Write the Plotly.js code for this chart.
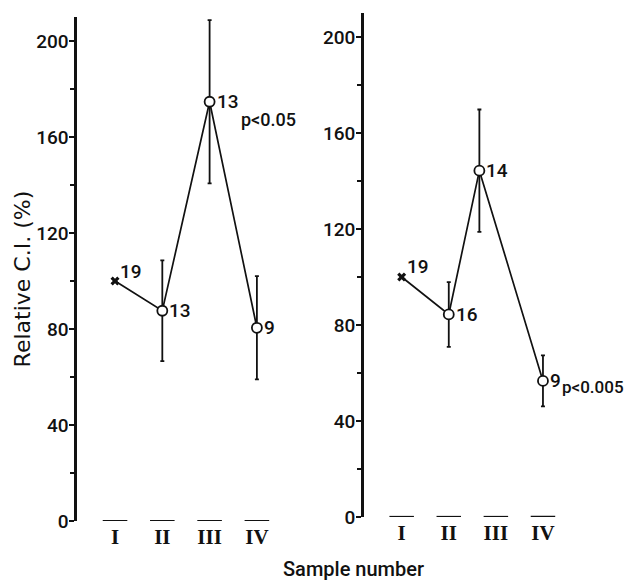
<!DOCTYPE html>
<html>
<head>
<meta charset="utf-8">
<script src="https://cdn.plot.ly/plotly-3.0.1.min.js"></script>
<style>html,body{margin:0;padding:0;background:#fff;}#chart{width:625px;height:581px;}</style>
</head>
<body>
<div id="chart"></div>
<script>
// ---- data ----
const categories = ['I', 'II', 'III', 'IV'];
const tickPositions = [1, 2, 3, 4];

const leftX = [1, 2, 3, 4];
const leftY = [100, 87.6, 174.7, 80.5];
const leftErr = [null, 21, 34, 21.5];
const leftN = ['19', '13', '13', '9'];

const rightX = [1, 2, 2.65, 4];
const rightY = [100, 84.4, 144.3, 56.7];
const rightErr = [null, 13.5, 25.5, 10.6];
const rightN = ['19', '16', '14', '9'];

const leftP = 'p<0.05';
const rightP = 'p<0.005';
const yTitle = 'Relative C.I. (%)';
const xTitle = 'Sample number';

// ---- styling ----
const SANS = 'Roboto, "Liberation Sans", "DejaVu Sans", sans-serif';
const WIDE = '"DejaVu Sans", Roboto, sans-serif';
const SERIF = '"Liberation Serif", "DejaVu Serif", serif';
const ink = '#111';
const W = 500;

function panelTraces(xs, ys, errs, xa, ya) {
  return [
    { x: xs, y: ys, xaxis: xa, yaxis: ya, type: 'scatter', mode: 'lines',
      line: { color: ink, width: 1.7 }, hoverinfo: 'skip', showlegend: false },
    { x: xs.slice(0, 1), y: ys.slice(0, 1), xaxis: xa, yaxis: ya, type: 'scatter', mode: 'markers',
      marker: { symbol: 'x', size: 8, color: ink, line: { width: 0 } }, showlegend: false },
    { x: xs.slice(1), y: ys.slice(1), xaxis: xa, yaxis: ya, type: 'scatter', mode: 'markers',
      marker: { symbol: 'circle', size: 10, color: '#fff', line: { color: ink, width: 1.8 } },
      error_y: { type: 'data', array: errs.slice(1), symmetric: true, color: ink, thickness: 1.8, width: 2 },
      showlegend: false, cliponaxis: false }
  ];
}

const data = [].concat(
  panelTraces(leftX, leftY, leftErr, 'x', 'y'),
  panelTraces(rightX, rightY, rightErr, 'x2', 'y2')
);

function nAnnotations(xs, ys, ns, xref, yref) {
  return ns.map((t, i) => ({
    x: xs[i], y: ys[i], xref: xref, yref: yref, text: t, showarrow: false,
    xanchor: 'left', yanchor: 'middle',
    xshift: i === 0 ? 3 : 5, yshift: i === 0 ? 10 : 0,
    font: { family: SANS, size: 19, weight: W, color: ink }
  }));
}

const annotations = [].concat(
  nAnnotations(leftX, leftY, leftN, 'x', 'y'),
  nAnnotations(rightX, rightY, rightN, 'x2', 'y2'),
  [
    { x: leftX[2], y: leftY[2], xref: 'x', yref: 'y', text: leftP, showarrow: false,
      xanchor: 'left', yanchor: 'middle', xshift: 29, yshift: -18,
      font: { family: SANS, size: 18, weight: W, color: ink } },
    { x: rightX[3], y: rightY[3], xref: 'x2', yref: 'y2', text: rightP, showarrow: false,
      xanchor: 'left', yanchor: 'middle', xshift: 17, yshift: -6,
      font: { family: SANS, size: 17, weight: W, color: ink } },
    { x: 0.566, y: 0.02, xref: 'paper', yref: 'paper', text: xTitle, showarrow: false,
      xanchor: 'center', yanchor: 'middle',
      font: { family: SANS, size: 20, weight: W, color: ink } },
    { x: 0.036, y: 0.52, xref: 'paper', yref: 'paper', text: yTitle, showarrow: false,
      textangle: -90, xanchor: 'center', yanchor: 'middle',
      font: { family: WIDE, size: 22, color: ink } }
  ]
);

// overbars above the roman numerals, at each category position on the baseline
const shapes = [];
[['x', 'y'], ['x2', 'y2']].forEach(([xr, yr]) => {
  tickPositions.forEach(p => {
    shapes.push({ type: 'line', xref: xr, yref: yr, x0: p - 0.26, x1: p + 0.26, y0: 0, y1: 0,
      line: { color: ink, width: 2.2 } });
  });
});

function xAxis(domain, anchor) {
  return { domain: domain, anchor: anchor, range: [0.2, 5.3], tickmode: 'array',
    tickvals: tickPositions, ticktext: categories, showline: false, showgrid: false,
    zeroline: false, ticks: '', ticklabelstandoff: 1,
    tickfont: { family: SERIF, size: 21, weight: 'bold', color: ink }, fixedrange: true };
}
function yAxis(domain, anchor) {
  return { domain: domain, anchor: anchor, range: [0, 210], tick0: 0, dtick: 40,
    showline: true, linewidth: 2.8, linecolor: ink, showgrid: false, zeroline: false,
    ticks: 'outside', ticklen: 5, tickwidth: 1.6, tickcolor: ink, ticklabelstandoff: -3,
    minor: { dtick: 20, ticks: 'outside', ticklen: 4, tickwidth: 1.6, tickcolor: ink, showgrid: false },
    tickfont: { family: SANS, size: 19, weight: W, color: ink }, fixedrange: true };
}

const layout = {
  width: 625, height: 581,
  margin: { l: 0, r: 0, t: 0, b: 0 },
  paper_bgcolor: '#fff', plot_bgcolor: '#fff',
  showlegend: false,
  xaxis: xAxis([0.1235, 0.5094], 'y'),
  yaxis: yAxis([0.1033, 0.9707], 'x'),
  xaxis2: xAxis([0.5824, 0.9667], 'y2'),
  yaxis2: yAxis([0.1102, 0.9776], 'x2'),
  annotations: annotations,
  shapes: shapes
};

Plotly.newPlot('chart', data, layout, { displayModeBar: false, staticPlot: true });
</script>
</body>
</html>
